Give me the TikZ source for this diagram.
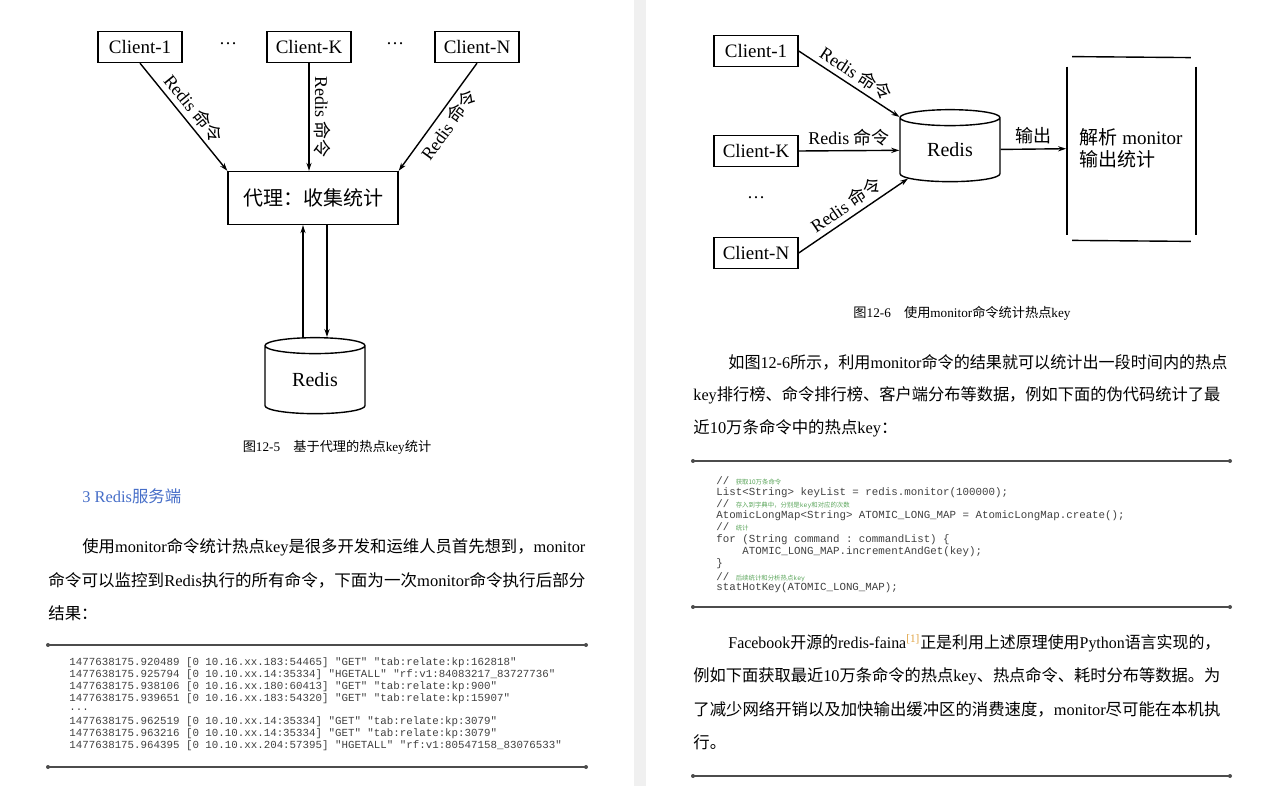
\documentclass[tikz,border=0pt]{standalone}
\usepackage{graphicx}
\usepackage{fontspec}
\setmainfont{Liberation Serif}
\setmonofont{Liberation Mono}
\newfontfamily\zhfont{Noto Sans CJK SC}
\newcommand\zh[1]{{\zhfont #1}}
\usetikzlibrary{shapes.geometric,arrows.meta,calc}
\newdimen\pxu \pxu=0.5pt
\newcommand\fitline[2]{\resizebox{#1\pxu}{\height}{#2}}
\definecolor{headblue}{RGB}{70,110,200}
\definecolor{cmtgreen}{RGB}{90,165,90}
\definecolor{refgold}{RGB}{225,165,70}
\tikzset{
  box/.style={draw, line width=0.7pt, minimum width=84\pxu, minimum height=31\pxu, inner sep=0pt, font=\fontsize{9.5}{9.5}\selectfont},
  db/.style={cylinder, shape border rotate=90, draw, line width=0.7pt, aspect=0.35, minimum width=100\pxu, inner sep=0pt, font=\fontsize{10}{10}\selectfont},
  cmd/.style={-{Stealth[length=4pt, width=2.6pt]}, line width=0.7pt},
  lbl/.style={font=\fontsize{9}{9}\selectfont, inner sep=2pt},
  para/.style={anchor=west, inner sep=0pt, font=\fontsize{8.2}{8.2}\selectfont},
  code/.style={anchor=west, inner sep=0pt, font=\ttfamily\fontsize{5.4}{5.4}\selectfont, text=black!75},
  figcap/.style={inner sep=0pt, font=\fontsize{6.6}{6.6}\selectfont},
  rl/.style={line width=1pt, black!70},
  sk/.style={line width=0.7pt}
}
\begin{document}
\begin{tikzpicture}[x=0.5pt,y=-0.5pt]
\useasboundingbox (0,0) rectangle (1282,786);
\fill[white] (0,0) rectangle (1282,786);
\fill[black!6] (634,0) rectangle (646,786);

% left figure: proxy collects statistics
\node[box] (c1) at (140,47) {Client-1};
\node[box] (cK) at (309,47) {Client-K};
\node[box] (cN) at (477,47) {Client-N};
\node[lbl] (d1) at (228,44) {\dots};
\node[lbl] (d2) at (395,44) {\dots};
\node[box, minimum width=170\pxu, minimum height=53\pxu, font=\fontsize{10}{10}\selectfont] (proxy) at (313,198) {\zh{代理：收集统计}};
\node[db, minimum height=76\pxu] (redisL) at (315,380) {Redis};
\draw[cmd] (c1.south) -- (proxy.north west) node[lbl, midway, sloped, above] {Redis \zh{命令}};
\draw[cmd] (cK.south) -- (cK.south |- proxy.north) node[lbl, midway, sloped, above] {Redis \zh{命令}};
\draw[cmd] (cN.south) -- (proxy.north east) node[lbl, midway, sloped, below] {Redis \zh{命令}};
\draw[cmd] ([xshift=-6pt]redisL.north) -- ([xshift=-6pt]redisL.north |- proxy.south);
\draw[cmd] ([xshift=6pt]redisL.north |- proxy.south) -- ([xshift=6pt]redisL.north);
\node[figcap] (capL) at (337,447) {\zh{图}12-5\zh{　基于代理的热点}key\zh{统计}};

% right figure: monitor
\node[box] (c1r) at (756,51) {Client-1};
\node[box] (c2r) at (756,151) {Client-K};
\node[box] (c3r) at (756,253) {Client-N};
\node[lbl] (d3) at (756,198) {\dots};
\node[db, minimum height=72\pxu] (redisR) at (950,150) {Redis};
\node[minimum width=129\pxu, minimum height=186\pxu, inner sep=0pt, align=left, font=\fontsize{9.5}{11}\selectfont] (parse) at (1131,148) {\zh{解析} monitor\\\zh{输出统计}};
\draw[sk] ($(parse.north west)+(6,2)$) -- ($(parse.north east)+(-5,3)$);
\draw[sk] ($(parse.north west)+(1,12)$) -- ($(parse.south west)+(1,-6)$);
\draw[sk] ($(parse.north east)+(0,12)$) -- ($(parse.south east)+(0,-6)$);
\draw[sk] ($(parse.south west)+(6,-1)$) -- ($(parse.south east)+(-5,0)$);
\draw[cmd] (c1r.east) -- (redisR) node[lbl, midway, sloped, above] {Redis \zh{命令}};
\draw[cmd] (c2r.east) -- (redisR) node[lbl, midway, above] {Redis \zh{命令}};
\draw[cmd] (c3r.east) -- (redisR) node[lbl, midway, sloped, above] {Redis \zh{命令}};
\draw[cmd] (redisR) -- (parse) node[lbl, midway, above] {\zh{输出}};
\node[figcap] (capR) at (962,313) {\zh{图}12-6\zh{　使用}monitor\zh{命令统计热点}key};

% left page text
\node[para, text=headblue] (head) at (82,496) {3 Redis\zh{服务端}};
\node[para] (l1) at (82,547) {\fitline{503}{\zh{使用}monitor\zh{命令统计热点}key\zh{是很多开发和运维人员首先想到，}monitor}};
\node[para] (l2) at (48,580) {\fitline{537}{\zh{命令可以监控到}Redis\zh{执行的所有命令，下面为一次}monitor\zh{命令执行后部分}}};
\node[para] (l3) at (48,613) {\zh{结果：}};
\foreach \y in {645,767} {
  \draw[rl] (48,\y) -- (586,\y);
  \fill[black!70] (48,\y) circle (2) (586,\y) circle (2);
}
\foreach \y/\t [count=\i] in {
  663/{1477638175.920489 [0 10.16.xx.183:54465] "GET" "tab:relate:kp:162818"},
  675/{1477638175.925794 [0 10.10.xx.14:35334] "HGETALL" "rf:v1:84083217\_83727736"},
  687/{1477638175.938106 [0 10.16.xx.180:60413] "GET" "tab:relate:kp:900"},
  699/{1477638175.939651 [0 10.16.xx.183:54320] "GET" "tab:relate:kp:15907"},
  710/{...},
  722/{1477638175.962519 [0 10.10.xx.14:35334] "GET" "tab:relate:kp:3079"},
  734/{1477638175.963216 [0 10.10.xx.14:35334] "GET" "tab:relate:kp:3079"},
  746/{1477638175.964395 [0 10.10.xx.204:57395] "HGETALL" "rf:v1:80547158\_83076533"}}
  \node[code] (cl\i) at (69,\y) {\t};

% right page text
\node[para] (r1) at (728,362) {\fitline{499}{\zh{如图}12-6\zh{所示，利用}monitor\zh{命令的结果就可以统计出一段时间内的热点}}};
\node[para] (r2) at (693,395) {\fitline{527}{key\zh{排行榜、命令排行榜、客户端分布等数据，例如下面的伪代码统计了最}}};
\node[para] (r3) at (693,428) {\zh{近}10\zh{万条命令中的热点}key\zh{：}};
\foreach \y in {461,607,776} {
  \draw[rl] (693,\y) -- (1230,\y);
  \fill[black!70] (693,\y) circle (2) (1230,\y) circle (2);
}
\node[code] (k1) at (716,481) {// {\color{cmtgreen}\fontsize{3.2}{3.2}\selectfont\zh{获取10万条命令}}};
\node[code] (k2) at (716,493) {List<String> keyList = redis.monitor(100000);};
\node[code] (k3) at (716,504) {// {\color{cmtgreen}\fontsize{3.2}{3.2}\selectfont\zh{存入到字典中，分别是}key\zh{和对应的次数}}};
\node[code] (k4) at (716,516) {AtomicLongMap<String> ATOMIC\_LONG\_MAP = AtomicLongMap.create();};
\node[code] (k5) at (716,527) {// {\color{cmtgreen}\fontsize{3.2}{3.2}\selectfont\zh{统计}}};
\node[code] (k6) at (716,540) {for (String command : commandList) \{};
\node[code] (k7) at (742,552) {ATOMIC\_LONG\_MAP.incrementAndGet(key);};
\node[code] (k8) at (716,564) {\}};
\node[code] (k9) at (716,577) {// {\color{cmtgreen}\fontsize{3.2}{3.2}\selectfont\zh{后续统计和分析热点}key}};
\node[code] (k10) at (716,588) {statHotKey(ATOMIC\_LONG\_MAP);};
\node[para] (f1) at (728,643) {\fitline{492}{Facebook\zh{开源的}redis-faina\textsuperscript{\color{refgold}[1]}\zh{正是利用上述原理使用}Python\zh{语言实现的，}}};
\node[para] (f2) at (693,676) {\fitline{527}{\zh{例如下面获取最近}10\zh{万条命令的热点}key\zh{、热点命令、耗时分布等数据。为}}};
\node[para] (f3) at (693,709) {\fitline{527}{\zh{了减少网络开销以及加快输出缓冲区的消费速度，}monitor\zh{尽可能在本机执}}};
\node[para] (f4) at (693,742) {\zh{行。}};
\end{tikzpicture}
\end{document}
